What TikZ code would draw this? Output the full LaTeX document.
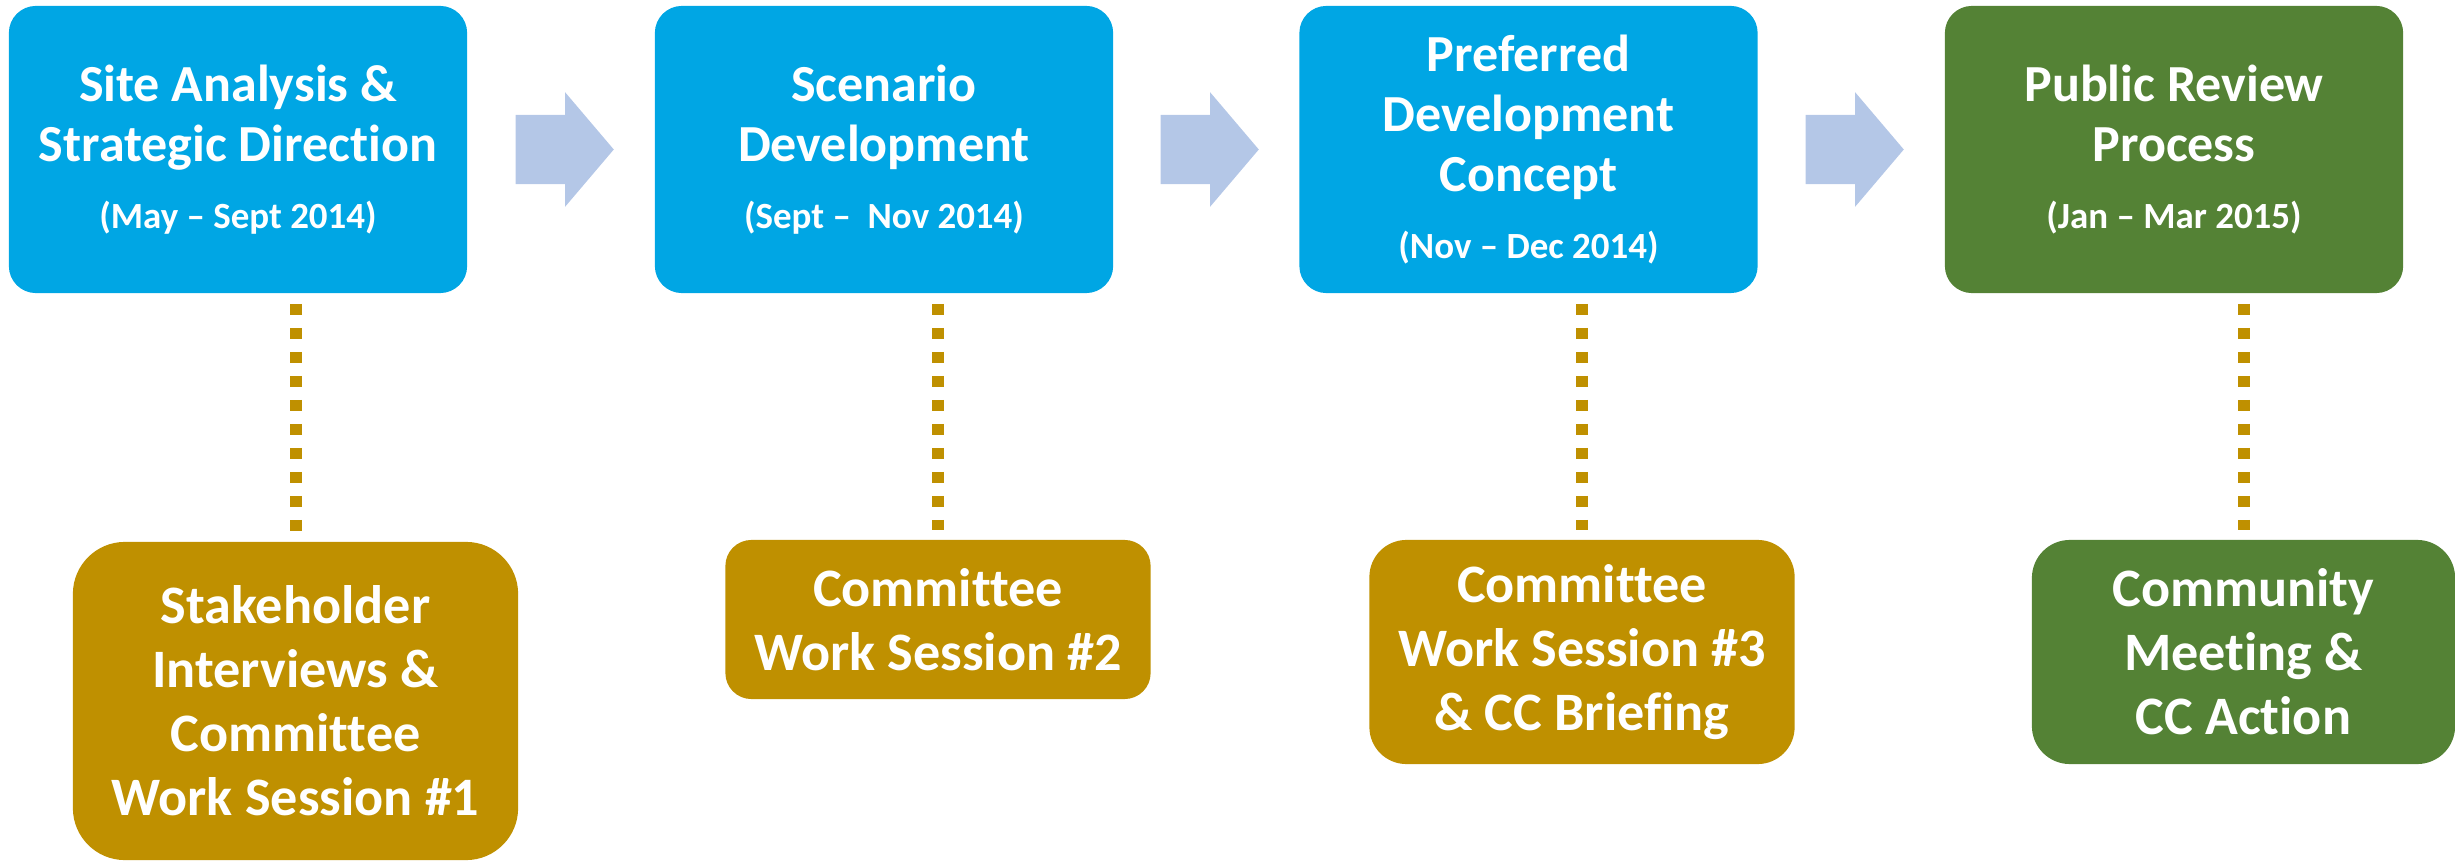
\documentclass[tikz,border=0pt]{standalone}
\usepackage{fontspec}
\setmainfont{Carlito}[Ligatures=NoCommon]
\usetikzlibrary{shapes,arrows,positioning,calc}

\definecolor{stageblue}{RGB}{0,166,228}
\definecolor{meetgold}{RGB}{191,144,0}
\definecolor{reviewgreen}{RGB}{84,130,53}
\definecolor{arrowblue}{RGB}{180,199,231}

\newcommand{\titlefont}{\fontsize{14.8}{17.1}\selectfont\bfseries}
\newcommand{\datefont}{\fontsize{10.5}{12}\selectfont\bfseries}
\newcommand{\meetfont}{\fontsize{15.4}{18.2}\selectfont\bfseries}

\begin{document}
\begin{tikzpicture}[x=0.01cm, y=-0.01cm,
    stagebox/.style={rectangle, rounded corners=0.27cm, fill=stageblue, text=white,
        minimum width=4.58cm, minimum height=2.87cm, align=center, font=\titlefont, inner sep=0pt},
    meetbox/.style={rectangle, fill=meetgold, text=white, align=center, font=\meetfont, inner sep=0pt},
    flowarrow/.style={single arrow, fill=arrowblue, inner xsep=0pt, inner ysep=0.34cm,
        minimum height=0.98cm, minimum width=1.13cm, single arrow head extend=0.225cm,
        single arrow tip angle=99.3, single arrow head indent=0pt, anchor=tail},
    dotline/.style={meetgold, line width=0.12cm, dash pattern=on 0.11cm off 0.13cm,
        shorten <=0.1cm, shorten >=0.09cm}]
    \useasboundingbox (0,0) rectangle (2455,861);

    % Stages
    \node[stagebox] (t1) at (238,149.5) {Site Analysis \&\\Strategic Direction\\[2pt]{\datefont (May -- Sept 2014)}};
    \node[stagebox] (t2) at (884,149.5) {Scenario\\Development\\[2pt]{\datefont (Sept --\ \ Nov 2014)}};
    \node[stagebox] (t3) at (1528.5,149.5) {Preferred\\Development\\Concept\\[2pt]{\datefont (Nov -- Dec 2014)}};
    \node[stagebox, fill=reviewgreen] (t4) at (2174,149.5) {Public Review\\Process\\[2pt]{\datefont (Jan -- Mar 2015)}};

    % Arrows between stages
    \node[flowarrow] (a1) at (515,149.5) {};
    \node[flowarrow] (a2) at (1160,149.5) {};
    \node[flowarrow] (a3) at (1805,149.5) {};

    % Meetings
    \node[meetbox, minimum width=4.45cm, minimum height=3.18cm, rounded corners=0.52cm] (b1) at (295.5,701)
        {Stakeholder\\Interviews \&\\Committee\\Work Session \#1};
    \node[meetbox, minimum width=4.25cm, minimum height=1.59cm, rounded corners=0.26cm] (b2) at (938,619.5)
        {Committee\\Work Session \#2};
    \node[meetbox, minimum width=4.25cm, minimum height=2.24cm, rounded corners=0.37cm] (b3) at (1582,652)
        {Committee\\Work Session \#3\\\& CC Briefing};
    \node[meetbox, fill=reviewgreen, minimum width=4.23cm, minimum height=2.24cm, rounded corners=0.38cm] (b4) at (2243.5,652)
        {Community\\Meeting \&\\CC Action};

    % Dotted links
    \draw[dotline] (b1.north |- t1.south) -- (b1.north);
    \draw[dotline] (b2.north |- t2.south) -- (b2.north);
    \draw[dotline] (b3.north |- t3.south) -- (b3.north);
    \draw[dotline] (b4.north |- t4.south) -- (b4.north);
\end{tikzpicture}
\end{document}
